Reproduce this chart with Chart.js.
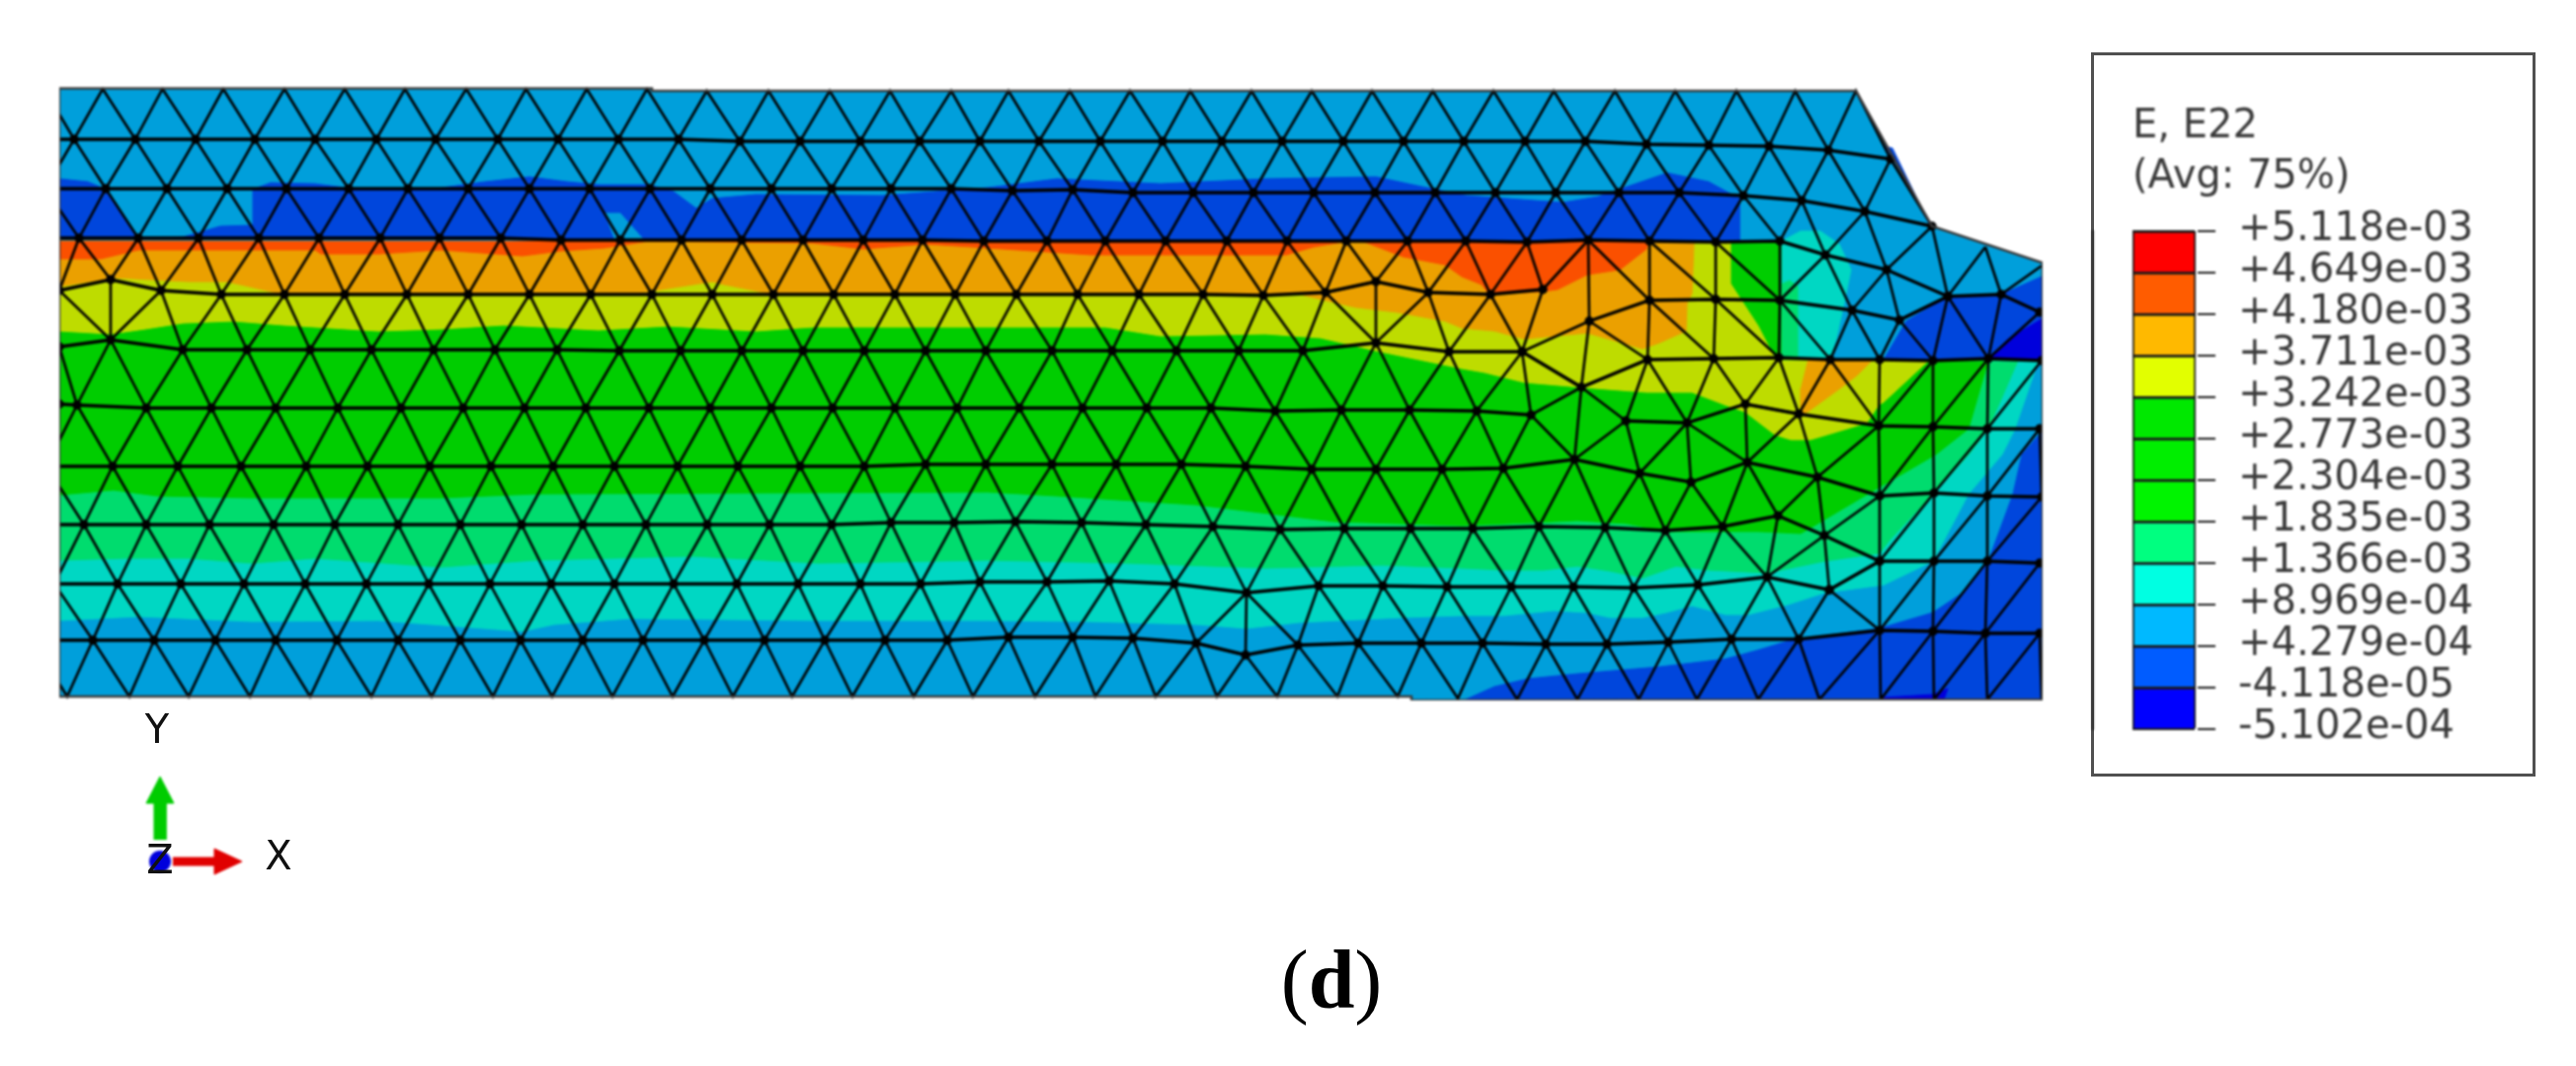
<!DOCTYPE html>
<html><head><meta charset="utf-8"><title>E, E22</title>
<script src="https://cdn.jsdelivr.net/npm/chart.js@4"></script>
<style>
html,body{margin:0;padding:0;background:#fff;width:2608px;height:1079px;overflow:hidden}
canvas{position:absolute;filter:blur(0.8px)}
.t{position:absolute;font-family:"DejaVu Sans";font-size:40px;line-height:40px;color:#111;transform:translate(-50%,-50%);filter:blur(0.7px)}
#box{position:absolute;left:2117px;top:53px;width:444px;height:727px;border:3px solid #505050;filter:blur(0.7px)}
#cap{position:absolute;left:1348px;top:942px;transform:translateX(-50%);font-family:"Liberation Serif";font-size:84px;line-height:100px;color:#000}
</style></head><body>
<div id="box"></div>
<canvas id="mesh" width="2608" height="1079" style="left:0;top:0"></canvas>
<canvas id="legend" width="449" height="731" style="left:2118px;top:54px"></canvas>
<canvas id="triad" width="130" height="120" style="left:130px;top:770px"></canvas>
<div class="t" style="left:159px;top:738px">Y</div>
<div class="t" style="left:282px;top:866px">X</div>
<div class="t" style="left:162px;top:870px">Z</div>
<div id="cap">(<b>d</b>)</div>
<script>
// ---- legend ----
const legendTitle=['E, E22','(Avg: 75%)'];
const legendValues=['+5.118e-03','+4.649e-03','+4.180e-03','+3.711e-03','+3.242e-03','+2.773e-03','+2.304e-03','+1.835e-03','+1.366e-03','+8.969e-04','+4.279e-04','-4.118e-05','-5.102e-04'];
const legendColors=['#FF0000','#FF5C00','#FFB900','#E2FF00','#00E800','#00EE00','#00F400','#00FF80','#00FFE2','#00B9FF','#005CFF','#0000FF'];
// ---- contour band colours as they appear in the mesh ----
const cLB='#009FDB',cBlue='#0046DC',cDark='#0000DC',cCyan='#00D7C3',cMint='#00DC6E',cGreen='#00CD00',cYellow='#BEDC00',cOrange='#EBA000',cRed='#FA5000';
// ---- part outline ----
const outline=[60,89.5,660,89.5,660,92,1879,92,1956,229,2068,266,2068,708,1429,709,1429,705,60,705,60,89.5];
// ---- contour bands ----
const bandBottomBlue=[1484,708,1513,695,1547,687,1597,682,1680,675,1747,667,1780,658,1813,648,1903,636,1957,620,1987,600,2013,568,2038,500,2047,460,2067,437,2068,708];
const bandCyan=[60,628,140,624,255,629,383,628,529,639,561,632,638,626,829,628,1000,628,1100,629,1211,632,1262,636,1315,630,1421,625,1480,623,1523,623,1573,618,1607,620,1630,625,1663,625,1687,620,1713,613,1747,622,1770,622,1810,612,1847,600,1907,592,1957,568,1993,500,2027,460,2040,434,2063,367,2068,365,1880,365,1880,228,1802,228,1802,241,60,241];
const bandMint=[60,567,128,565,191,565,255,570,319,565,446,574,542,567,701,563,829,570,1000,567,1140,570,1281,575,1400,572,1480,575,1523,577,1563,577,1597,573,1630,578,1663,585,1697,573,1730,577,1789,580,1847,568,1903,560,1913,547,1957,500,1993,460,2013,434,2043,365,1820,365,1820,290,1812,284,1803,288,1803,241,60,241];
const bandGreen=[60,501,115,496,159,502,255,504,446,504,542,500,765,499,1000,498,1070,502,1211,511,1351,528,1480,532,1597,527,1647,530,1687,538,1780,538,1823,540,1837,532,1903,493,1960,460,1993,434,2013,365,1803,365,1803,241,60,241];
const bandYellow=[60,335,112,338,147,333,185,327,236,325,287,329,383,335,446,333,510,329,606,334,676,330,765,335,823,331,1000,331,1119,331,1175,340,1281,338,1337,342,1393,355,1480,373,1503,377,1543,387,1601,392,1667,397,1713,397,1747,410,1767,417,1780,427,1797,440,1813,445,1833,445,1860,437,1890,428,1902,410,1907,407,1947,370,1953,365,1798,365,1780,330,1752,287,1752,244,60,244];
const bandOrange=[60,290,115,281,191,285,230,285,287,298,638,298,721,285,733,288,784,298,1000,298,1211,298,1279,300,1316,298,1372,311,1414,316,1463,325,1480,332,1513,335,1543,343,1607,337,1663,353,1680,347,1707,335,1708,307,1713,297,1715,247,1715,244,60,244];
const bandRed=[60,262,102,262,140,253,319,253,325,257,383,257,446,253,529,259,568,254,612,251,657,244,823,246,874,252,937,247,1000,251,1105,258,1210,258,1302,258,1330,250,1365,244,1379,244,1421,260,1463,268,1480,280,1500,288,1508,298,1562,295,1577,293,1607,278,1640,273,1667,252,1668,244,60,244];
const patchOrange=[1830,365,1895,365,1880,380,1863,393,1830,417,1823,418,1823,393];
const upperLB=[60,89.5,660,89.5,660,92,1879,92,1956,229,2068,266,2068,365,1853,364,1860,343,1868,307,1875,273,1863,247,1843,233,1823,233,1802,244,60,243];
const upperBlue=[60,181,89,184,108,192,255,192,274,185,319,186,357,191,440,191,491,184,536,179,574,184,606,187,657,187,682,194,705,211,721,201,765,197,893,198,1000,190,1070,181,1175,186,1281,181,1393,179,1435,188,1484,198,1582,205,1618,199,1688,175,1730,184,1761,201,1761,244,60,242];
const holeA=[108,192,139,241,185,239,223,228,255,227,255,192];
const holeB=[612,216,628,216,651,242,622,242];
const rightBlue=[1907,364,1923,337,1930,325,1972,300,2026,298,2067,280,2067,365];
const rightDark=[2013,364,2033,343,2067,323,2067,365];
const chamferBlue=[1908,148,1916,150,1953,226,1945,212,1925,175];
const bottomDark=[1907,708,1968,708,1972,697,1957,703,1907,706];
// ---- mesh rows: x,y node pairs, reading downward ----
const row0=[45,90,104,90,164.5,90,226,90,288,90,349,90,410,90,472,90,532.5,90,594,90,655,90,715.5,92,778,92,840,92,901,92,963,92,1021,92,1083,92,1144,92,1205,92,1267,92,1328,92,1389,92,1450.5,92,1512,92,1573,92,1635,92,1696,92,1758,92,1817.5,92,1879,92];
const row1=[14,141,75,141,137,141,198,141,258,141,319,141,381,141,441,141,504,141,565,141,626,141,687,141,749,143,810,143,871,143,931,143,992,143,1052,143,1114,143,1177,143,1237,143,1298,143,1360,143,1421,143,1482,143,1544,143,1605,143,1667,146,1730,147,1791,148,1851,152,1914,161];
const row2=[46,191,107,191,169,191,230,191,290,191,353,191,413,191,474,191,536,191,597,191,658,191,719,191,781,191,842,191,902,191,963,191,1025,193,1086,192,1147,195,1208,195,1269,195,1330,195,1392,195,1453,195,1514,195,1575,195,1639,195,1700,195,1765,198,1824,203,1888,214,1956,229];
const row3=[19,241,80,241,140,241,201,241,262,241,323,241,385,241,445,241,507,241,568,243,628,243,690,243,751,243,813,243,874,243,934,243,996,244,1060,244,1119,244,1180,244,1242,244,1303,244,1363,244,1425,244,1484,244,1546,245,1608,243,1670,244,1737,245,1802,244,1848,258,1910,273,1972,300];
const row4=[60,294,112,283,163,294,224,298,288,298,349,298,412,298,474,298,536,298,598,298,660,298,721,298,783,298,844,298,906,298,967,298,1029,298,1091,298,1153,298,1218,298,1279,299,1342,296,1393,285,1446,296,1509,298,1562,293];
const row5=[60,351,112,344,185,354,250,354,314,354,376,354,439,354,501,354,564,354,627,355,689,355,751,355,813,355,875,355,937,355,998,355,1065,355,1126,355,1191,355,1254,355,1319,355,1393,347,1467,356,1541,356];
const row6=[60,409,78,410,148,413,214,413,279,413,342,413,406,413,469,413,531,413,593,413,657,413,719,413,781,413,843,413,906,413,969,413,1032,413,1096,413,1161,413,1226,413,1291,416,1358,415,1427,415,1495,416,1550,420];
const row7=[47,472,114,472,180,472,244,472,310,472,372,472,435,472,497,472,560,472,622,472,686,472,747,472,810,472,875,472,937,470,998,470,1065,470,1130,470,1196,470,1261,472,1328,475,1393,475,1460,475,1522,474,1594,465,1660,479,1712,488,1769,468,1840,483,1903,502,1958,499,2012,502,2067,503];
const row8=[20,531,85,531,148,531,212,531,277,531,339,531,403,531,466,531,528,531,590,531,654,531,716,531,779,531,842,531,902,529,966,529,1028,528,1095,529,1160,531,1228,533,1296,536,1361,535,1428,535,1491,535,1558,533,1625,534,1686,537,1744,533,1800,522,1847,542,1903,568,1958,568,2012,568,2065,570];
const row9=[55,591,119,591,183,591,247,591,309,591,371,591,434,591,496,591,558,591,622,591,682,591,746,591,808,591,871,591,932,591,992,589,1060,589,1123,588,1189,591,1262,600,1335,593,1400,593,1465,594,1530,594,1593,594,1654,595,1719,592,1789,584,1852,597];
const row10=[33,648,94,648,156,648,218,648,279,648,341,648,403,648,466,648,527,648,590,648,651,648,713,648,774,648,835,648,896,648,959,648,1021,645,1086,645,1147,646,1211,651,1261,663,1314,653,1375,651,1439,651,1501,651,1565,652,1627,652,1689,650,1753,647,1821,647,1903,638,1957,639,2010,641,2065,641];
const row11=[6,705,68,705,131,705,191,705,253,705,314,705,376,705,437,705,499,705,559,705,620,705,681,705,742,705,802,705,863,705,925,705,985,705,1048,705,1109,705,1170,705,1232,705,1293,705,1354,705,1415,705,1476,707,1536,708,1597,708,1659,708,1718,708,1780,708,1842,708,1904,708,1958,708,2012,708,2067,708];
const rows=[row0,row1,row2,row3,row4,row5,row6,row7,row8,row9,row10,row11];
// lower and upper x of the regular triangle strip between row i and row i+1
const stripFrom=[-99,-99,-99,-99,113,61,61,-99,-99,-99,-99];
const stripTo=[9999,9999,9999,1562,1562,1550,1594,1800,1800,1852,9999];
// ---- irregular mesh near the taper ----
const nodes={C:[1608,243],D:[1670,244],E:[1737,245],a:[1802,244],c:[1848,258],d:[1910,273],g:[1972,300],G:[1562,293],H:[1609,325],I:[1670,304],J:[1737,303],b:[1802,304],e:[1875,314],f:[1923,324],h:[2026,298],i:[2065,316],j:[2067,269],k:[2010,250],K:[1541,356],N:[1601,392],L:[1668,364],M:[1735,363],n:[1801,362],o:[1853,364],p:[1903,364],q:[1957,365],r:[2013,363],s:[2067,365],P:[1550,420],Q:[1646,426],R:[1708,428],S:[1767,409],t:[1821,419],u:[1902,431],v:[1957,432],w:[2012,434],x:[2065,434],T:[1594,465],A7:[1660,479],B7:[1712,488],U:[1769,468],V:[1840,483],W:[1903,502],X:[1958,499],Y:[2012,502],Z:[2067,503],A8:[1800,522],B8:[1847,542],C8:[1903,568],D8:[1958,568],E8:[2012,568],F8:[2065,570],A9:[1789,584],B9:[1852,597],C10:[1903,638],D10:[1957,639],E10:[2010,641],M4:[1342,296],Y5:[1393,347],A0:[60,294],B0:[112,283],C0:[112,344],D0:[163,294],F0:[60,351],G0:[78,410],H0:[47,472],P9:[1262,600],Q9:[1211,651]};
const chains=['H I J b e f g','g h i','K N L M n o p q r s','Q R S t u v w x','B9 C8'];
const edges='C-G C-H C-I D-I D-J E-J E-b a-b c-b c-e d-e d-f g-f g-k k-h h-j K-H H-N H-L K-N N-L N-P N-Q L-Q L-R I-L J-M I-M M-R M-S J-n n-S n-t o-t o-u p-u q-u q-v r-v r-w s-w b-n b-o e-o e-p f-p f-q g-q g-r h-r r-i S-t t-U N-T Q-T Q-A7 R-A7 R-B7 R-U S-U t-V u-V u-W v-W v-X w-X w-Y x-Y x-Z V-A8 V-B8 W-B8 W-C8 X-C8 X-D8 Y-D8 Y-E8 Z-E8 A9-B8 B8-B9 B9-C10 C8-C10 D8-C10 D8-D10 E8-D10 E8-E10 F8-E10 M4-Y5 A0-C0 B0-C0 C0-D0 F0-G0 G0-H0 Q9-P9'.split(' ');
// ---- triad ----
const greenArrow=[156,850,156,813,148,813,162,786,176,813,168,813,168,850];
const redArrow=[175,868,217,868,217,859,245,872,217,885,217,876,175,876];
const triadOrigin=[162,872];

const pts=f=>{const o=[];for(let i=0;i<f.length;i+=2)o.push({x:f[i],y:f[i+1]});return o;};
const band=(f,c)=>({data:pts(f),fill:'shape',backgroundColor:c,borderColor:c,borderWidth:1,pointRadius:0,showLine:true,tension:0});
const line=(data,w,r)=>({data,fill:false,borderColor:'#000',backgroundColor:'#000',borderWidth:w,pointRadius:r,pointHoverRadius:r,showLine:true,tension:0,clip:0});

const sets=[
 band(outline,cLB),band(bandBottomBlue,cBlue),band(bottomDark,cDark),band(bandCyan,cCyan),band(bandMint,cMint),band(bandGreen,cGreen),
 band(bandYellow,cYellow),band(bandOrange,cOrange),band(bandRed,cRed),band(patchOrange,cOrange),
 band(upperLB,cLB),band(upperBlue,cBlue),band(holeA,cLB),band(holeB,cLB),band(rightBlue,cBlue),band(rightDark,cDark),band(chamferBlue,cBlue)
];
// triangle strips between rows
for(let i=0;i<rows.length-1;i++){
  const a=pts(rows[i]).map(p=>({...p,s:0})),b=pts(rows[i+1]).map(p=>({...p,s:1}));
  const m=[...a,...b].filter(p=>p.x>=stripFrom[i]&&p.x<=stripTo[i]).sort((p,q)=>p.x-q.x||p.s-q.s).map(p=>({x:p.x,y:p.y}));
  sets.push(line(m,2.6,0));
}
// irregular edges
const gaps=[];
edges.forEach(e=>{const [u,v]=e.split('-');gaps.push({x:nodes[u][0],y:nodes[u][1]},{x:nodes[v][0],y:nodes[v][1]},{x:NaN,y:NaN});});
sets.push(line(gaps,2.6,0));
// row lines
rows.slice(1,11).forEach(r=>sets.push(line(pts(r),3.4,3)));
chains.forEach(c=>sets.push(line(c.split(' ').map(n=>({x:nodes[n][0],y:nodes[n][1]})),3.4,3)));
sets.push({...line(pts(outline),2.5,0),borderColor:'#3c3c3c'});
const n=sets.length;sets.forEach((s,i)=>s.order=n-i);

new Chart(document.getElementById('mesh'),{type:'scatter',data:{datasets:sets},options:{
 responsive:false,animation:false,events:[],devicePixelRatio:1,
 layout:{autoPadding:false,padding:{left:60,right:540,top:88,bottom:370}},
 plugins:{legend:{display:false},tooltip:{enabled:false},title:{display:false}},
 scales:{x:{type:'linear',min:60,max:2068,display:false},y:{type:'linear',min:88,max:709,reverse:true,display:false}}
}});

// colour legend
const bottomUp=[...legendColors].reverse();
new Chart(document.getElementById('legend'),{type:'bar',data:{labels:['E22'],datasets:bottomUp.map(c=>({data:[1],backgroundColor:c,borderColor:'#1a1a1a',borderWidth:2,barPercentage:1,categoryPercentage:1}))},options:{
 responsive:false,animation:false,events:[],devicePixelRatio:1,
 layout:{autoPadding:false,padding:{left:41,right:0,top:49,bottom:43}},
 plugins:{legend:{display:false},tooltip:{enabled:false},
  title:{display:true,text:legendTitle,align:'start',color:'#3a3a3a',font:{family:'DejaVu Sans',size:40,weight:'normal',lineHeight:1.275},padding:{top:0,bottom:29}}},
 scales:{x:{stacked:true,display:false},
  y:{stacked:true,position:'right',min:0,max:12,
   afterFit:s=>{s.width=344;},
   grid:{color:'#1a1a1a',lineWidth:2,tickLength:20,z:1},border:{display:true,color:'#1a1a1a',width:3},
   ticks:{stepSize:1,autoSkip:false,padding:23,labelOffset:-1,color:'#3a3a3a',font:{family:'DejaVu Sans',size:40},callback:v=>legendValues[12-v]}}}
}});

// triad
new Chart(document.getElementById('triad'),{type:'scatter',data:{datasets:[
 {...band(redArrow,'#E00000'),order:3},{...band(greenArrow,'#00CC00'),order:2},
 {data:[{x:triadOrigin[0],y:triadOrigin[1]}],pointRadius:11,backgroundColor:'#0000DC',borderWidth:0,order:1}
]},options:{responsive:false,animation:false,events:[],devicePixelRatio:1,layout:{autoPadding:false},
 plugins:{legend:{display:false},tooltip:{enabled:false}},
 scales:{x:{type:'linear',min:130,max:260,display:false},y:{type:'linear',min:770,max:890,reverse:true,display:false}}
}});
</script>
</body></html>
